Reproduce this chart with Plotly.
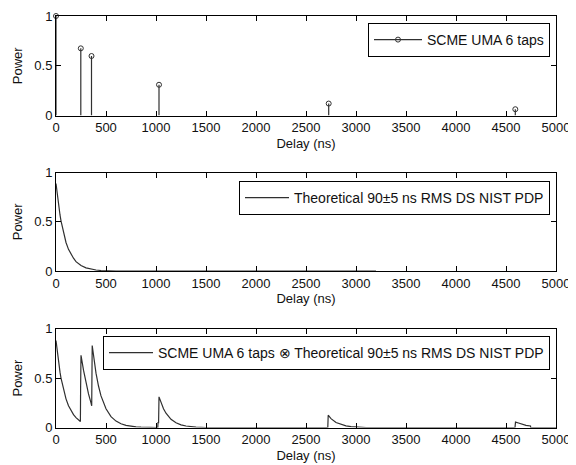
import plotly.graph_objects as go

# ---- data ----
tap_delay = [0, 248, 355, 1030, 2727, 4593]
tap_power = [1.0, 0.675, 0.598, 0.309, 0.12, 0.063]

pdp_delay = [0, 10, 20, 30, 40, 50, 60, 75, 100, 125, 150, 175, 200, 250, 300,
             350, 400, 450, 500, 600, 3200]
pdp_power = [0.89, 0.80, 0.71, 0.64, 0.57, 0.51, 0.46, 0.39, 0.29, 0.22, 0.17,
             0.13, 0.095, 0.055, 0.032, 0.018, 0.01, 0.005, 0.002, 0.0, 0.0]

conv_delay = [0, 10, 20, 30, 40, 50, 75, 100, 125, 150, 175, 200, 225, 244,
              246, 250,
              275, 300, 325, 350, 355,
              357, 362, 375, 400, 425, 450, 500, 550, 600, 650, 700, 750, 800, 850, 900, 1000,
              1018, 1020, 1026, 1030, 1050, 1075, 1100, 1150, 1200, 1250, 1300, 1350, 1400, 1500,
              2718, 2722, 2750, 2800, 2850, 2900, 2950, 3000, 3100,
              4590, 4595, 4625, 4650, 4700, 4745, 4747, 5000]
conv_power = [0.88, 0.79, 0.70, 0.63, 0.56, 0.50, 0.38, 0.29, 0.22, 0.17, 0.13, 0.10, 0.075, 0.06,
              0.39, 0.73,
              0.58, 0.45, 0.34, 0.25, 0.22,
              0.22, 0.83, 0.72, 0.55, 0.42, 0.32, 0.19, 0.11, 0.065, 0.038, 0.022, 0.012, 0.006, 0.003, 0.001, 0.0,
              0.0, 0.05, 0.05, 0.31, 0.25, 0.19, 0.145, 0.083, 0.048, 0.027, 0.015, 0.008, 0.004, 0.0,
              0.0, 0.125, 0.09, 0.05, 0.03, 0.017, 0.009, 0.004, 0.0,
              0.0, 0.055, 0.045, 0.035, 0.022, 0.015, 0.0, 0.0]

x_ticks = [0, 500, 1000, 1500, 2000, 2500, 3000, 3500, 4000, 4500, 5000]
y_ticks = [0, 0.5, 1]
y_tick_text = ["0", "0.5", "1"]

# ---- figure ----
# the page body has an 8 px margin, so the figure is drawn 8 px in from the corner
OFF = 8
W, H = 576 - OFF, 465 - OFF
LINE = "#303030"
FONT = "Liberation Sans"

def px(x):
    return (x - OFF) / W

def py(y):
    return (H - (y - OFF)) / H

xdom = [px(56), px(556)]
ydoms = [[py(115.5), py(16)], [py(271), py(172.7)], [py(427.5), py(328.7)]]

fig = go.Figure()

# stems (vertical lines) built from tap data
stem_x, stem_y = [], []
for d, p in zip(tap_delay, tap_power):
    stem_x += [d, d, None]
    stem_y += [0, p, None]
fig.add_trace(go.Scatter(x=stem_x, y=stem_y, mode="lines",
                         line=dict(color=LINE, width=1.2),
                         showlegend=False, xaxis="x", yaxis="y", hoverinfo="skip"))
fig.add_trace(go.Scatter(x=tap_delay, y=tap_power, mode="markers",
                         marker=dict(symbol="circle-open", size=5, color=LINE,
                                     line=dict(width=1, color=LINE)),
                         cliponaxis=False,
                         showlegend=False, xaxis="x", yaxis="y"))
fig.add_trace(go.Scatter(x=[None], y=[None], mode="lines+markers",
                         name="SCME UMA 6 taps",
                         line=dict(color=LINE, width=1.2),
                         marker=dict(symbol="circle-open", size=5, color=LINE),
                         legend="legend", xaxis="x", yaxis="y"))

fig.add_trace(go.Scatter(x=pdp_delay, y=pdp_power, mode="lines",
                         name="Theoretical 90±5 ns RMS DS NIST PDP",
                         line=dict(color=LINE, width=1.2),
                         legend="legend2", xaxis="x2", yaxis="y2"))

fig.add_trace(go.Scatter(x=conv_delay, y=conv_power, mode="lines",
                         name="SCME UMA 6 taps ⊗ Theoretical 90±5 ns RMS DS NIST PDP",
                         line=dict(color=LINE, width=1.2),
                         legend="legend3", xaxis="x3", yaxis="y3"))

axfont = dict(family=FONT, size=13, color="#111")

def xaxis(anchor):
    return dict(domain=xdom, anchor=anchor, range=[0, 5000], tickvals=x_ticks,
                ticks="inside", ticklen=5, tickcolor="black", showline=True,
                linecolor="black", linewidth=1, mirror="ticks", showgrid=False,
                zeroline=False, tickfont=axfont, automargin=False,
                title=dict(text="Delay (ns)", font=axfont, standoff=4))

def yaxis(anchor, dom):
    return dict(domain=dom, anchor=anchor, range=[0, 1], tickvals=y_ticks,
                ticktext=y_tick_text, ticks="inside", ticklen=5, tickcolor="black",
                showline=True, linecolor="black", linewidth=1, mirror="ticks",
                showgrid=False, zeroline=False, tickfont=axfont, automargin=False,
                title=dict(text="Power", font=axfont, standoff=8))

def legend(top, itemwidth):
    return dict(x=px(550), xanchor="right", y=py(top), yanchor="top",
                bordercolor="black", borderwidth=1, bgcolor="white",
                font=dict(family=FONT, size=14, color="#111"),
                itemwidth=itemwidth, tracegroupgap=0)

fig.update_layout(
    width=W, height=H,
    margin=dict(l=0, r=0, t=0, b=0, autoexpand=False),
    paper_bgcolor="white", plot_bgcolor="white",
    font=dict(family=FONT, size=13, color="#111"),
    xaxis=xaxis("y"), yaxis=yaxis("x", ydoms[0]),
    xaxis2=xaxis("y2"), yaxis2=yaxis("x2", ydoms[1]),
    xaxis3=xaxis("y3"), yaxis3=yaxis("x3", ydoms[2]),
    legend=legend(23, 48),
    legend2=legend(181, 44),
    legend3=legend(336, 44),
)

fig.write_html("out.html")
